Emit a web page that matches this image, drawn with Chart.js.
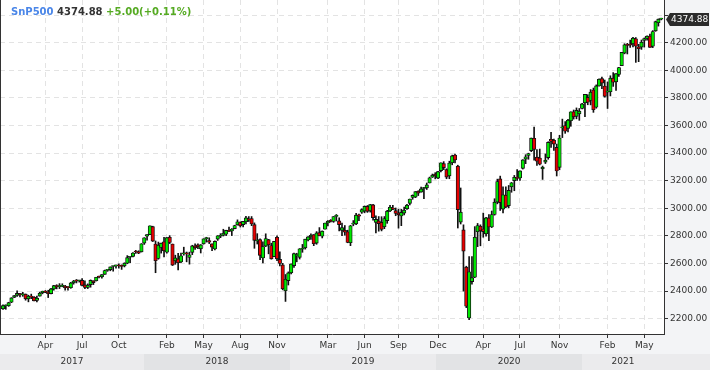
<!DOCTYPE html>
<html>
<head>
<meta charset="utf-8">
<script src="https://cdn.jsdelivr.net/npm/chart.js@4.4.1/dist/chart.umd.min.js"></script>
<style>
  html, body { margin: 0; padding: 0; background: #f3f4f6; }
  #wrap { position: relative; width: 710px; height: 370px; }
  #head { position: absolute; left: 11px; top: 5px; font: bold 10px 'DejaVu Sans', sans-serif; white-space: pre; line-height: 13px; }
  #head .sym { color: #4a86e8; }
  #head .px  { color: #333333; }
  #head .chg { color: #55aa22; }
</style>
</head>
<body>
<div id="wrap">
  <canvas id="chart" width="710" height="370"></canvas>
  <div id="head"><span class="sym">SnP500</span> <span class="px">4374.88</span> <span class="chg">+5.00(+0.11%)</span></div>
</div>
<script>
// ── Weekly candles (week ending) ─────────────────────────────
const weeks = [
  // 2017
  '2017-01-27','2017-02-03','2017-02-10','2017-02-17','2017-02-24','2017-03-03','2017-03-10','2017-03-17','2017-03-24','2017-03-31',
  '2017-04-07','2017-04-13','2017-04-21','2017-04-28','2017-05-05','2017-05-12','2017-05-19','2017-05-26','2017-06-02','2017-06-09',
  '2017-06-16','2017-06-23','2017-06-30','2017-07-07','2017-07-14','2017-07-21','2017-07-28','2017-08-04','2017-08-11','2017-08-18',
  '2017-08-25','2017-09-01','2017-09-08','2017-09-15','2017-09-22','2017-09-29','2017-10-06','2017-10-13','2017-10-20','2017-10-27',
  '2017-11-03','2017-11-10','2017-11-17','2017-11-24','2017-12-01','2017-12-08','2017-12-15','2017-12-22','2017-12-29',
  // 2018
  '2018-01-05','2018-01-12','2018-01-19','2018-01-26','2018-02-02','2018-02-09','2018-02-16','2018-02-23','2018-03-02','2018-03-09',
  '2018-03-16','2018-03-23','2018-03-29','2018-04-06','2018-04-13','2018-04-20','2018-04-27','2018-05-04','2018-05-11','2018-05-18',
  '2018-05-25','2018-06-01','2018-06-08','2018-06-15','2018-06-22','2018-06-29','2018-07-06','2018-07-13','2018-07-20','2018-07-27',
  '2018-08-03','2018-08-10','2018-08-17','2018-08-24','2018-08-31','2018-09-07','2018-09-14','2018-09-21','2018-09-28','2018-10-05',
  '2018-10-12','2018-10-19','2018-10-26','2018-11-02','2018-11-09','2018-11-16','2018-11-23','2018-11-30','2018-12-07','2018-12-14',
  '2018-12-21','2018-12-28',
  // 2019
  '2019-01-04','2019-01-11','2019-01-18','2019-01-25','2019-02-01','2019-02-08','2019-02-15','2019-02-22','2019-03-01','2019-03-08',
  '2019-03-15','2019-03-22','2019-03-29','2019-04-05','2019-04-12','2019-04-18','2019-04-26','2019-05-03','2019-05-10','2019-05-17',
  '2019-05-24','2019-05-31','2019-06-07','2019-06-14','2019-06-21','2019-06-28','2019-07-05','2019-07-12','2019-07-19','2019-07-26',
  '2019-08-02','2019-08-09','2019-08-16','2019-08-23','2019-08-30','2019-09-06','2019-09-13','2019-09-20','2019-09-27','2019-10-04',
  '2019-10-11','2019-10-18','2019-10-25','2019-11-01','2019-11-08','2019-11-15','2019-11-22','2019-11-29','2019-12-06','2019-12-13',
  '2019-12-20','2019-12-27',
  // 2020
  '2020-01-03','2020-01-10','2020-01-17','2020-01-24','2020-01-31','2020-02-07','2020-02-14','2020-02-21','2020-02-28','2020-03-06',
  '2020-03-13','2020-03-20','2020-03-27','2020-04-03','2020-04-09','2020-04-17','2020-04-24','2020-05-01','2020-05-08','2020-05-15',
  '2020-05-22','2020-05-29','2020-06-05','2020-06-12','2020-06-19','2020-06-26','2020-07-02','2020-07-10','2020-07-17','2020-07-24',
  '2020-07-31','2020-08-07','2020-08-14','2020-08-21','2020-08-28','2020-09-04','2020-09-11','2020-09-18','2020-09-25','2020-10-02',
  '2020-10-09','2020-10-16','2020-10-23','2020-10-30','2020-11-06','2020-11-13','2020-11-20','2020-11-27','2020-12-04','2020-12-11',
  '2020-12-18','2020-12-24','2020-12-31',
  // 2021
  '2021-01-08','2021-01-15','2021-01-22','2021-01-29','2021-02-05','2021-02-12','2021-02-19','2021-02-26','2021-03-05','2021-03-12',
  '2021-03-19','2021-03-26','2021-04-01','2021-04-09','2021-04-16','2021-04-23','2021-04-30','2021-05-07','2021-05-14','2021-05-21',
  '2021-05-28','2021-06-04','2021-06-11','2021-06-18','2021-06-25','2021-07-02','2021-07-09','2021-07-16'
];

const opens = [
  2271,2294,2294,2319,2354,2369,2381,2373,2378,2343,2363,2356,2332,2363,2389,2400,2393,2382,2415,2437,2432,2434,2437,2431,2424,
  2459,2473,2475,2478,2445,2426,2447,2474,2474,2503,2503,2521,2550,2555,2578,2583,2588,2580,2583,2602,2645,2652,2685,2684,
  2684,2748,2798,2809,2867,2741,2636,2716,2757,2681,2790,2741,2619,2633,2611,2670,2675,2643,2680,2727,2735,2706,2742,2780,2765,2742,
  2705,2776,2797,2804,2812,2840,2835,2853,2880,2897,2881,2902,2924,2926,2881,2763,2773,2640,2726,2773,2730,2650,2790,2630,2590,2401,
  2476,2532,2584,2657,2644,2703,2713,2770,2794,2809,2747,2823,2797,2848,2893,2908,2904,2941,2909,2840,2841,2830,2750,2885,2887,2952,
  2971,2979,3014,2981,3024,2898,2908,2898,2866,2910,2980,3002,2983,2967,2944,2965,2996,3035,3078,3081,3123,3117,3143,3148,3183,3225,
  3247,3218,3273,3323,3280,3235,3330,3386,3305,2900,2843,2573,2205,2468,2500,2830,2870,2850,2815,2930,2864,2955,3044,3213,2994,3094,
  3019,3155,3200,3224,3219,3289,3356,3382,3418,3507,3370,3364,3285,3334,3367,3500,3493,3441,3296,3583,3600,3579,3634,3699,3666,3684,3723,
  3764,3803,3781,3857,3732,3886,3939,3886,3842,3844,3943,3916,3969,4034,4124,4183,4186,4191,4228,4170,4168,4216,4230,4248,4174,4285,4344,4370
];
const highs = [
  2301,2300,2319,2352,2368,2401,2384,2391,2379,2370,2378,2361,2363,2392,2400,2404,2406,2419,2441,2446,2454,2453,2442,2433,2463,
  2478,2484,2478,2491,2474,2452,2481,2475,2500,2509,2520,2552,2556,2575,2582,2589,2597,2590,2605,2657,2652,2679,2695,2692,
  2744,2787,2810,2873,2870,2763,2755,2748,2789,2787,2802,2741,2660,2673,2675,2718,2683,2682,2732,2743,2742,2737,2779,2790,2786,2743,
  2764,2802,2816,2848,2841,2863,2853,2877,2916,2902,2906,2941,2940,2940,2894,2816,2779,2756,2815,2775,2747,2760,2800,2685,2601,2520,
  2539,2598,2675,2674,2708,2738,2776,2794,2814,2809,2831,2860,2836,2893,2910,2918,2940,2955,2931,2892,2875,2841,2876,2911,2964,2958,
  2996,3017,3020,3028,3028,2945,2940,2939,2940,2985,3021,3022,3002,2993,2993,3008,3028,3067,3097,3121,3127,3154,3151,3183,3226,3248,
  3258,3268,3330,3338,3286,3341,3385,3393,3312,3147,2880,2580,2650,2650,2867,2890,2880,2965,2934,2955,2980,3069,3211,3233,3155,3155,
  3165,3187,3238,3280,3272,3352,3388,3399,3509,3588,3425,3429,3306,3394,3482,3550,3502,3465,3529,3646,3628,3645,3699,3712,3727,3723,3760,
  3826,3823,3860,3871,3894,3938,3950,3929,3915,3960,3983,3975,4021,4130,4192,4195,4218,4238,4237,4188,4219,4234,4249,4262,4287,4356,4372,4377
];
const lows = [
  2267,2268,2289,2316,2353,2362,2357,2362,2334,2322,2345,2328,2322,2363,2380,2388,2353,2380,2407,2416,2418,2431,2406,2407,2420,
  2450,2459,2465,2437,2417,2418,2428,2447,2473,2496,2494,2521,2543,2547,2544,2566,2566,2557,2575,2598,2606,2647,2673,2671,
  2683,2738,2768,2808,2759,2533,2631,2675,2647,2675,2744,2585,2594,2553,2605,2660,2612,2595,2664,2702,2707,2676,2740,2755,2744,2692,
  2699,2767,2787,2799,2802,2830,2802,2851,2878,2864,2864,2886,2904,2874,2710,2741,2628,2604,2722,2670,2631,2649,2621,2583,2409,2325,
  2444,2524,2571,2612,2632,2681,2704,2764,2775,2729,2739,2800,2785,2848,2873,2900,2898,2908,2836,2801,2805,2750,2729,2873,2881,2910,
  2963,2967,2970,2972,2914,2822,2834,2836,2852,2891,2975,2990,2946,2856,2874,2952,2991,3024,3065,3077,3092,3116,3070,3136,3183,3223,
  3213,3214,3264,3280,3214,3214,3315,3328,2857,2886,2400,2280,2192,2450,2497,2722,2728,2790,2798,2766,2860,2950,3032,2984,2966,3004,
  3003,3116,3127,3201,3201,3284,3323,3355,3410,3349,3310,3314,3209,3324,3355,3441,3419,3234,3279,3512,3543,3554,3594,3646,3648,3637,3720,
  3663,3750,3749,3695,3725,3885,3866,3805,3723,3814,3883,3853,3955,4034,4119,4118,4166,4169,4057,4062,4151,4168,4218,4165,4164,4282,4320,4365
];
const closes = [
  2295,2297,2316,2351,2367,2383,2373,2378,2344,2363,2356,2329,2349,2384,2399,2391,2382,2416,2439,2432,2433,2438,2423,2425,2459,
  2473,2472,2477,2441,2426,2443,2477,2461,2500,2502,2519,2549,2553,2575,2581,2588,2582,2579,2602,2642,2652,2676,2683,2674,
  2743,2786,2810,2873,2762,2620,2732,2747,2691,2787,2752,2588,2641,2604,2656,2670,2670,2663,2728,2713,2721,2735,2779,2780,2755,2718,
  2760,2801,2802,2819,2840,2833,2850,2875,2902,2872,2905,2930,2914,2886,2767,2768,2659,2723,2781,2736,2633,2760,2633,2600,2417,2486,
  2532,2596,2671,2665,2707,2708,2776,2793,2804,2743,2822,2801,2834,2893,2907,2905,2940,2946,2881,2860,2826,2752,2873,2887,2950,2942,
  2990,3014,2977,3026,2932,2919,2889,2847,2926,2979,3007,2992,2962,2952,2970,2986,3023,3067,3093,3120,3110,3141,3146,3169,3221,3240,
  3235,3265,3330,3295,3226,3328,3380,3350,2990,2972,2690,2290,2540,2497,2790,2875,2837,2831,2930,2864,2955,3044,3194,3041,3098,3009,
  3130,3185,3225,3216,3271,3351,3373,3397,3508,3427,3341,3319,3298,3348,3477,3484,3465,3270,3509,3585,3558,3638,3699,3663,3709,3703,3756,
  3825,3768,3841,3714,3887,3935,3907,3811,3842,3943,3913,3975,4020,4129,4185,4180,4181,4233,4174,4156,4204,4230,4247,4166,4281,4352,4370,4374.88
];

// ── Axis labels ──────────────────────────────────────────────
const monthTickIdx    = [15, 28, 41, 58, 71, 84, 97, 115, 128, 140, 154, 170, 183, 197, 214, 227];
const monthTickLabels = ['Apr','Jul','Oct','Feb','May','Aug','Nov','Mar','Jun','Sep','Dec','Apr','Jul','Nov','Feb','May'];
const yearBreaks = [49.9, 101.6, 153.3, 205.0];
const yearLabels = ['2017', '2018', '2019', '2020', '2021'];
const yTicks = [2200, 2400, 2600, 2800, 3000, 3200, 3400, 3600, 3800, 4000, 4200, 4400];

const X_MIN = -1.06, X_MAX = 233.98;
const lastClose = closes[closes.length - 1];

const UP = '#00e800', DOWN = '#e60000';
const FONT = { family: "'DejaVu Sans', sans-serif", size: 9 };

const bodies = weeks.map((w, i) => ({ x: i, y: [opens[i], closes[i]] }));
const wicks  = weeks.map((w, i) => ({ x: i, y: [lows[i], highs[i]] }));
const bodyColors = weeks.map((w, i) => closes[i] >= opens[i] ? UP : DOWN);

// no label padding: plot goes right up to the top edge
const noPad = s => { s.paddingTop = 0; s.paddingBottom = 0; s.paddingLeft = 0; s.paddingRight = 0; };

// backgrounds, year bands, left edge, last price tag
const framePlugin = {
  id: 'frame',
  beforeDraw(chart) {
    const { ctx, chartArea: a } = chart;
    const xs = chart.scales.x;
    ctx.save();
    ctx.fillStyle = '#f3f4f6';
    ctx.fillRect(0, 0, chart.width, chart.height);
    ctx.fillStyle = '#ffffff';
    ctx.fillRect(a.left, a.top, a.right - a.left, a.bottom - a.top);
    const bandTop = chart.scales.x2.top;
    for (let j = 0; j < yearLabels.length; j++) {
      const x0 = j === 0 ? 0 : Math.round(xs.getPixelForValue(yearBreaks[j - 1]));
      const x1 = j === yearLabels.length - 1 ? chart.width : Math.round(xs.getPixelForValue(yearBreaks[j]));
      ctx.fillStyle = j % 2 === 0 ? '#ebebed' : '#e2e3e5';
      ctx.fillRect(x0, bandTop, x1 - x0, chart.height - bandTop);
    }
    ctx.restore();
  },
  afterDraw(chart) {
    const { ctx, chartArea: a } = chart;
    const y = Math.round(chart.scales.y.getPixelForValue(lastClose)) + 0.5;
    ctx.save();
    ctx.strokeStyle = '#333';
    ctx.lineWidth = 1;
    ctx.beginPath();
    ctx.moveTo(0.5, a.top);
    ctx.lineTo(0.5, a.bottom);
    ctx.stroke();

    const x0 = a.right + 2;
    ctx.fillStyle = '#2b2b2b';
    ctx.beginPath();
    ctx.moveTo(x0, y);
    ctx.lineTo(x0 + 4, y - 6.5);
    ctx.lineTo(chart.width - 1, y - 6.5);
    ctx.lineTo(chart.width - 1, y + 6.5);
    ctx.lineTo(x0 + 4, y + 6.5);
    ctx.closePath();
    ctx.fill();
    ctx.fillStyle = '#ffffff';
    ctx.font = "9px 'DejaVu Sans', sans-serif";
    ctx.textBaseline = 'middle';
    ctx.fillText(lastClose.toFixed(2), x0 + 5, y);
    ctx.restore();
  }
};

new Chart(document.getElementById('chart'), {
  type: 'bar',
  data: {
    datasets: [
      {
        label: 'body',
        data: bodies,
        backgroundColor: bodyColors,
        borderColor: '#111',
        borderWidth: 0.9,
        borderSkipped: false,
        barThickness: 3.5,
        minBarLength: 1,
        grouped: false,
      },
      {
        label: 'wick',
        data: wicks,
        backgroundColor: '#111',
        borderWidth: 0,
        barThickness: 1,
        grouped: false,
      }
    ]
  },
  options: {
    responsive: false,
    animation: false,
    events: [],
    layout: { padding: 0 },
    plugins: { legend: { display: false }, tooltip: { enabled: false } },
    scales: {
      x: {
        type: 'linear',
        position: 'bottom',
        weight: 0,
        min: X_MIN,
        max: X_MAX,
        offset: false,
        afterBuildTicks: s => { s.ticks = monthTickIdx.map(v => ({ value: v })); },
        afterFit: s => { s.height = 20; noPad(s); },
        grid: { offset: false, color: '#e3e3e3', tickColor: '#333', tickLength: 4, drawTicks: true },
        border: { display: true, color: '#333', width: 1, dash: [5, 4] },
        ticks: {
          autoSkip: false, maxRotation: 0, padding: 2,
          color: '#333', font: FONT,
          callback: (v, i) => monthTickLabels[i]
        }
      },
      x2: {
        type: 'linear',
        position: 'bottom',
        weight: 1,
        min: X_MIN,
        max: X_MAX,
        offset: false,
        afterBuildTicks: s => {
          const edges = [X_MIN, ...yearBreaks, X_MAX];
          s.ticks = yearLabels.map((t, j) => ({ value: (edges[j] + edges[j + 1]) / 2 }));
        },
        afterFit: s => { s.height = 16; noPad(s); },
        grid: { display: false, drawTicks: false },
        border: { display: false },
        ticks: {
          autoSkip: false, maxRotation: 0, padding: 2,
          color: '#333', font: FONT,
          callback: (v, i) => yearLabels[i]
        }
      },
      y: {
        type: 'linear',
        position: 'right',
        min: 2089,
        max: 4509,
        afterBuildTicks: s => { s.ticks = yTicks.map(v => ({ value: v })); },
        afterFit: s => { s.width = 46; noPad(s); },
        grid: { color: '#e3e3e3', tickColor: '#333', tickLength: 4 },
        border: { display: true, color: '#333', width: 1, dash: [5, 4] },
        ticks: {
          padding: 2, color: '#333', font: FONT,
          callback: v => (v > lastClose - 60 ? '' : v.toFixed(2))
        }
      }
    }
  },
  plugins: [framePlugin]
});
</script>
</body>
</html>
